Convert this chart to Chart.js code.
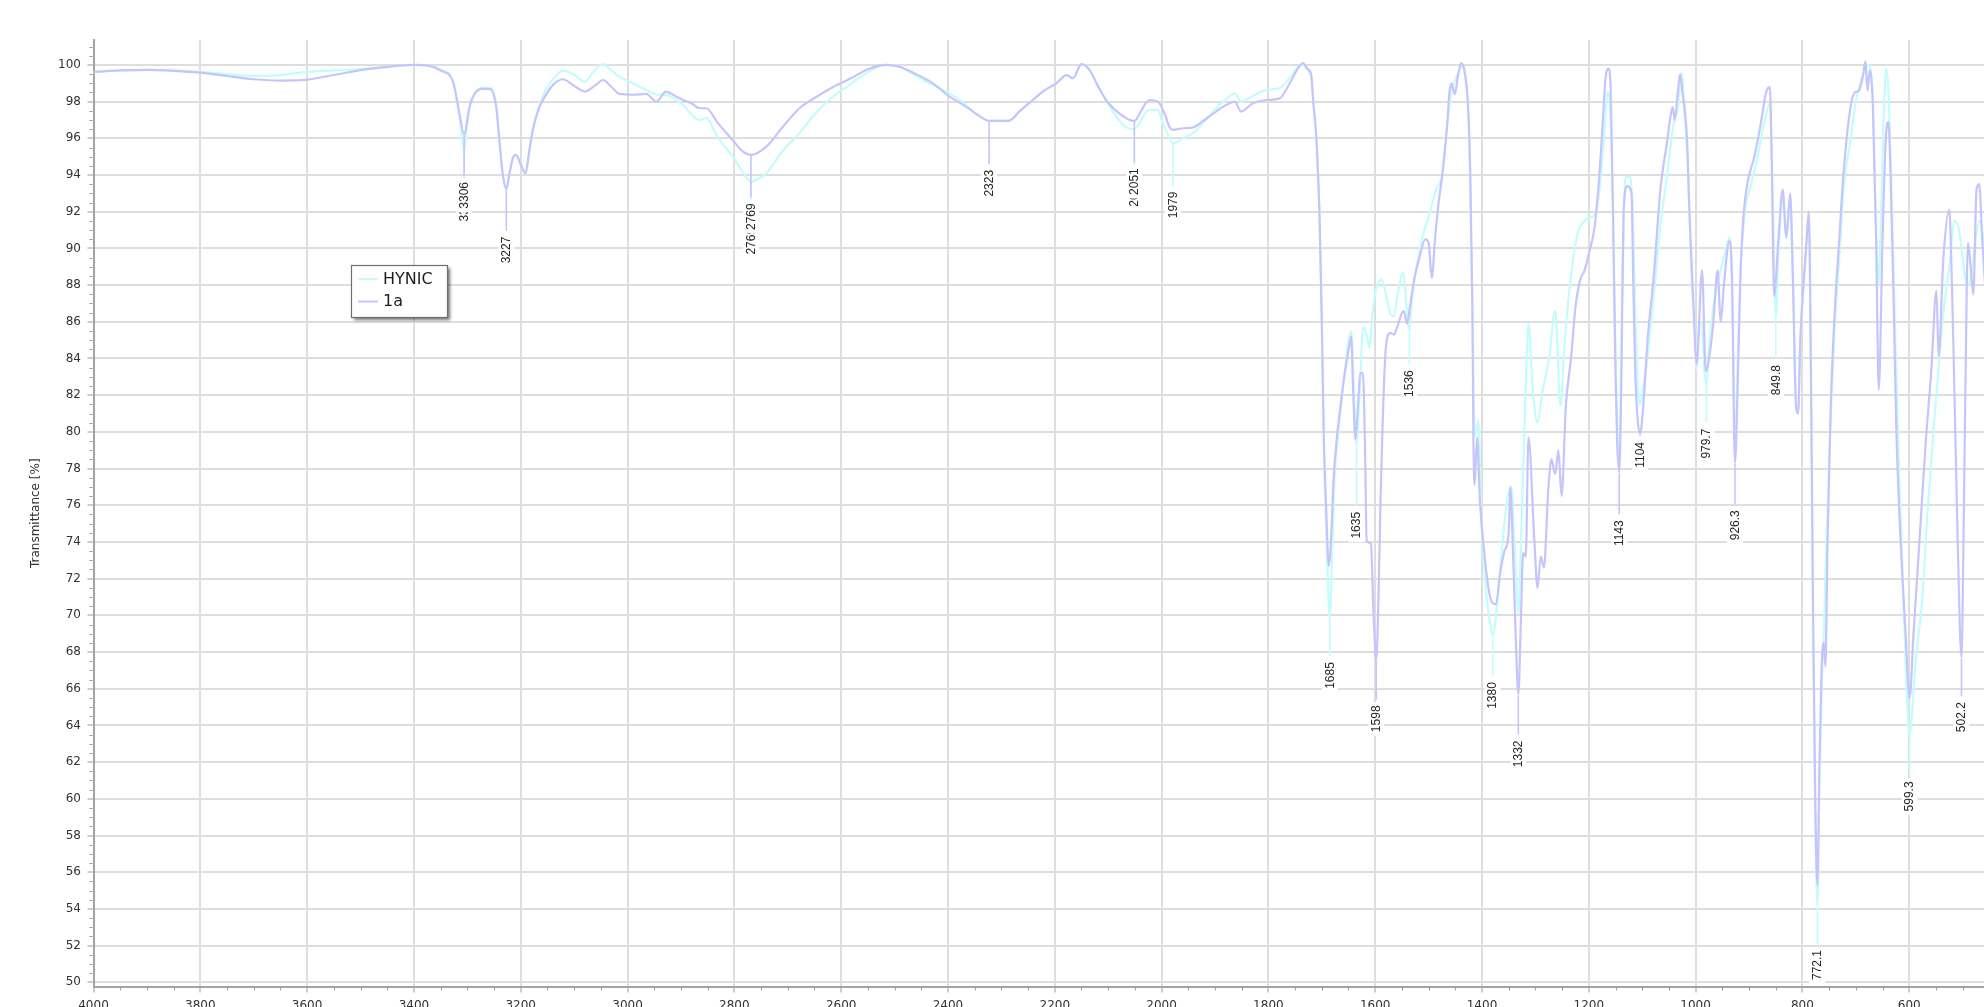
<!DOCTYPE html>
<html>
<head>
<meta charset="utf-8">
<title>IR spectra: HYNIC and 1a</title>
<script src="https://cdn.jsdelivr.net/npm/chart.js@4.4.0/dist/chart.umd.min.js"></script>
<style>
  html, body { margin: 0; padding: 0; overflow: hidden; background: #ffffff; }
  #wrap { width: 1984px; height: 1027px; }
</style>
</head>
<body>
<div id="wrap"><canvas id="ir" width="1984" height="1027"></canvas></div>
<script>
// ---- data -------------------------------------------------------------
const seriesNames = ['HYNIC', '1a'];
const seriesColors = ['#c4fcfc', '#c5c5fc'];

const xTicks = [4000, 3800, 3600, 3400, 3200, 3000, 2800, 2600, 2400, 2200, 2000, 1800, 1600, 1400, 1200, 1000, 800, 600];
const yTicks = [50, 52, 54, 56, 58, 60, 62, 64, 66, 68, 70, 72, 74, 76, 78, 80, 82, 84, 86, 88, 90, 92, 94, 96, 98, 100];

// [wavenumber cm-1, transmittance %]
const hynic = [
  [4000,99.6],[3950,99.7],[3900,99.73],[3850,99.7],[3800,99.62],[3750,99.5],[3700,99.4],[3650,99.45],[3600,99.62],[3550,99.7],
  [3500,99.78],[3450,99.9],[3400,100.0],[3372,99.95],[3350,99.75],[3327,99.1],[3315,97.2],[3306,95.4],[3298,97.4],[3288,98.3],
  [3272,98.76],[3255,98.73],[3246,97.8],[3240,96.0],[3234,94.2],[3227,93.3],[3221,94.1],[3215,94.9],[3209,95.1],[3199,94.5],
  [3191,94.1],[3184,95.3],[3177,96.6],[3165,97.8],[3152,98.7],[3140,99.2],[3121,99.69],[3102,99.5],[3080,99.09],[3065,99.6],
  [3046,100.05],[3030,99.7],[3015,99.36],[2990,99.0],[2965,98.64],[2946,98.4],[2928,98.37],[2910,98.1],[2896,97.82],[2880,97.3],
  [2865,97.0],[2853,97.1],[2830,96.0],[2803,95.0],[2785,94.2],[2769,93.64],[2755,93.8],[2740,94.1],[2710,95.3],[2678,96.28],
  [2650,97.3],[2615,98.27],[2580,99.0],[2553,99.55],[2516,100.0],[2491,99.9],[2460,99.4],[2428,98.9],[2397,98.45],[2370,97.9],
  [2353,97.46],[2335,97.1],[2323,96.95],[2300,96.95],[2285,96.97],[2265,97.5],[2241,98.09],[2220,98.6],[2197,99.0],[2178,99.45],
  [2166,99.27],[2150,100.05],[2135,99.73],[2120,98.9],[2104,98.09],[2085,97.2],[2066,96.6],[2051,96.5],[2040,96.9],[2030,97.4],
  [2022,97.55],[2007,97.55],[2000,97.0],[1990,96.3],[1979,95.73],[1960,96.0],[1941,96.28],[1920,96.9],[1898,97.64],[1880,98.1],
  [1863,98.45],[1851,98.0],[1830,98.3],[1804,98.64],[1779,98.73],[1760,99.3],[1745,99.9],[1735,100.0],[1727,99.7],[1720,99.4],
  [1716,98.0],[1710,95.9],[1704,91.5],[1700,86.0],[1696,79.0],[1691,74.0],[1685,69.9],[1680,74.0],[1676,77.5],[1669,79.9],
  [1663,81.7],[1657,83.2],[1651,84.8],[1645,85.5],[1640,82.5],[1635,79.3],[1630,81.5],[1627,83.5],[1623,85.7],[1617,85.4],
  [1611,84.6],[1604,86.8],[1597,87.9],[1588,88.3],[1580,87.5],[1571,86.4],[1565,86.3],[1557,87.7],[1547,88.7],[1542,87.0],
  [1536,85.5],[1531,87.2],[1525,88.6],[1510,90.8],[1498,91.9],[1486,93.2],[1474,94.1],[1465,96.8],[1457,98.6],[1450,99.2],
  [1444,99.6],[1438,99.9],[1432,99.5],[1426,97.5],[1422,93.5],[1418,86.5],[1415,81.0],[1411,79.8],[1407,80.6],[1400,74.5],
  [1392,71.2],[1386,69.8],[1380,68.9],[1372,70.5],[1363,73.5],[1353,76.3],[1345,77.0],[1340,74.5],[1336,72.0],[1332,70.1],
  [1328,73.0],[1323,78.1],[1318,82.5],[1313,85.9],[1305,82.3],[1296,80.5],[1288,82.0],[1274,84.1],[1263,86.6],[1253,81.4],
  [1245,85.0],[1233,88.6],[1221,90.8],[1208,91.5],[1196,91.7],[1188,91.9],[1180,93.2],[1172,95.9],[1165,98.5],[1159,97.0],
  [1154,91.0],[1149,83.0],[1143,78.3],[1139,85.0],[1134,92.5],[1131,93.9],[1123,93.9],[1118,92.3],[1113,86.8],[1108,82.3],
  [1104,81.5],[1098,82.5],[1090,84.1],[1078,87.5],[1066,91.2],[1053,94.1],[1041,96.8],[1033,97.7],[1026,99.6],[1021,97.5],
  [1014,94.0],[1008,88.6],[1001,85.5],[998,83.4],[993,86.0],[988,85.8],[984,83.5],[979.7,82.6],[975,84.5],[967,86.8],
  [955,88.6],[947,89.5],[936,90.6],[931,86.8],[926.3,79.0],[922,83.0],[916,88.6],[908,91.9],[896,93.5],[884,95.0],
  [872,96.8],[861,97.9],[856,93.0],[849.8,86.3],[845,89.5],[837,92.8],[830,90.6],[823,92.8],[818,88.6],[812,81.7],
  [808,81.2],[804,85.0],[796,88.6],[788,91.7],[784,83.0],[780,69.0],[776,59.0],[772.1,54.2],[768,61.0],[764,66.0],
  [760,69.0],[755,74.0],[748,80.0],[740,85.5],[731,89.5],[723,93.2],[710,95.9],[700,98.0],[690,99.2],[676,100.0],
  [668,98.0],[663,92.0],[658,88.0],[653,91.5],[648,97.0],[643,99.8],[638,98.0],[632,92.0],[626,85.0],[619,78.0],
  [611,71.0],[605,66.0],[599.3,63.4],[594,65.0],[588,67.5],[576,70.8],[566,75.5],[555,79.9],[545,83.5],[535,86.8],
  [525,89.0],[515,91.5],[507,91.0],[500,89.5],[492,88.0],[484,88.5],[476,90.5],[468,91.5],[458,90.0]
];

const compound1a = [
  [4000,99.63],[3950,99.7],[3900,99.73],[3850,99.68],[3800,99.58],[3750,99.4],[3720,99.28],[3700,99.22],[3650,99.15],[3600,99.2],
  [3550,99.45],[3500,99.72],[3450,99.9],[3400,100.0],[3372,99.95],[3350,99.7],[3327,99.1],[3315,97.4],[3306,96.2],[3296,97.7],
  [3287,98.4],[3272,98.7],[3258,98.7],[3246,97.73],[3240,95.9],[3234,94.1],[3227,93.24],[3221,94.1],[3215,94.9],[3209,95.1],
  [3199,94.5],[3191,94.1],[3184,95.3],[3177,96.5],[3165,97.7],[3152,98.4],[3140,98.9],[3121,99.22],[3102,98.9],[3080,98.55],
  [3060,98.9],[3046,99.18],[3030,98.8],[3015,98.42],[2990,98.38],[2965,98.42],[2946,98.0],[2928,98.55],[2910,98.3],[2896,98.09],
  [2880,97.9],[2865,97.64],[2853,97.64],[2830,96.8],[2803,95.9],[2785,95.3],[2769,95.1],[2740,95.55],[2710,96.6],[2678,97.64],
  [2650,98.2],[2615,98.8],[2580,99.3],[2553,99.73],[2516,100.0],[2491,99.9],[2460,99.5],[2428,99.0],[2397,98.27],[2370,97.8],
  [2353,97.46],[2335,97.1],[2323,96.95],[2300,96.95],[2285,96.97],[2265,97.5],[2241,98.09],[2220,98.6],[2197,99.0],[2178,99.45],
  [2166,99.27],[2150,100.05],[2135,99.73],[2120,98.9],[2104,98.09],[2085,97.5],[2066,97.1],[2051,96.95],[2040,97.4],[2030,97.9],
  [2022,98.09],[2007,98.0],[1995,97.4],[1985,96.6],[1979,96.46],[1960,96.55],[1941,96.6],[1920,97.0],[1898,97.46],[1880,97.8],
  [1863,98.0],[1851,97.46],[1830,97.9],[1804,98.09],[1779,98.18],[1760,99.0],[1745,99.8],[1735,100.1],[1727,99.8],[1720,99.5],
  [1716,98.0],[1710,95.9],[1704,91.5],[1700,86.0],[1696,79.5],[1692,76.0],[1687,72.7],[1682,74.5],[1678,77.4],[1671,79.9],
  [1665,81.4],[1657,83.2],[1649,84.6],[1645,85.2],[1641,82.0],[1637,79.6],[1632,81.5],[1628,83.2],[1623,83.2],[1619,79.0],
  [1616,74.1],[1608,73.9],[1603,70.0],[1598,67.6],[1593,72.0],[1590,76.3],[1586,80.5],[1584,82.3],[1580,84.6],[1572,85.4],
  [1565,85.3],[1559,85.7],[1547,86.6],[1540,85.9],[1535,86.8],[1527,88.3],[1518,89.4],[1506,90.5],[1500,90.3],[1494,88.4],
  [1488,90.5],[1482,92.3],[1474,94.1],[1465,96.8],[1461,98.5],[1457,99.0],[1451,98.4],[1445,99.4],[1439,100.1],[1433,99.7],
  [1426,97.7],[1422,94.1],[1418,86.8],[1416,79.5],[1414,77.1],[1409,79.7],[1404,76.3],[1396,73.5],[1388,71.5],[1381,70.7],
  [1374,70.6],[1366,72.3],[1358,73.5],[1350,74.5],[1347,77.0],[1342,73.5],[1337,69.0],[1332,65.7],[1327,69.9],[1323,73.4],
  [1318,73.2],[1313,79.7],[1302,74.1],[1296,71.5],[1290,73.2],[1284,72.6],[1276,76.8],[1270,78.5],[1263,77.7],[1257,79.0],
  [1251,76.5],[1243,81.4],[1233,84.1],[1225,86.8],[1216,88.3],[1208,88.8],[1200,89.7],[1189,91.2],[1181,93.7],[1174,96.8],
  [1169,99.2],[1163,99.8],[1159,98.6],[1155,92.3],[1150,83.2],[1147,79.5],[1143,77.8],[1139,83.0],[1135,91.9],[1128,93.4],
  [1120,93.0],[1117,88.6],[1113,83.2],[1108,80.5],[1104,79.9],[1098,81.4],[1090,85.0],[1078,88.6],[1066,93.2],[1053,95.9],
  [1049,96.8],[1043,97.7],[1039,97.0],[1033,98.6],[1029,99.5],[1025,98.6],[1016,95.9],[1012,92.3],[1004,86.8],[998,83.7],
  [988,88.8],[981,83.3],[976,83.8],[967,85.9],[959,88.8],[953,86.0],[947,88.0],[937,90.4],[932,88.6],[926.3,78.3],
  [920,84.0],[916,88.6],[910,91.9],[902,93.7],[890,95.0],[878,96.8],[868,98.5],[861,98.8],[857,94.1],[853,87.4],
  [845,90.5],[837,93.2],[830,90.6],[823,93.0],[818,88.6],[812,81.4],[808,81.0],[804,85.0],[797,88.5],[792,90.5],
  [788,92.0],[784,83.2],[780,70.0],[776,60.0],[772.1,55.3],[768,62.0],[764,67.2],[760,68.5],[757,67.2],[753,74.0],
  [747,81.4],[739,86.8],[731,90.5],[723,94.1],[710,97.7],[702,98.5],[694,98.6],[686,99.5],[682,100.2],[678,98.6],
  [674,99.7],[668,97.7],[662,90.5],[657,82.3],[650,90.5],[644,95.9],[639,96.9],[635,94.1],[629,86.8],[624,80.0],
  [617,74.6],[607,69.1],[599.3,65.5],[592,69.0],[584,72.6],[576,76.3],[568,79.9],[559,83.2],[549,87.7],[545,84.1],
  [536,89.5],[525,92.1],[520,88.0],[516,83.0],[510,75.0],[502.2,67.7],[498,75.0],[495,82.0],[490,90.3],[485,89.0],
  [480,87.5],[474,93.2],[469,93.5],[463,90.3],[458,88.0]
];

// peak picks: [wavenumber, label text, transmittance where the label ends]
const hynicPeaks = [
  [3306, '3306', 92.92], [2769, '2769', 91.12], [2051, '2051', 93.73], [1979, '1979', 93.1],
  [1685, '1685', 67.45], [1635, '1635', 75.64], [1536, '1536', 83.36], [1380, '1380', 66.36],
  [979.7, '979.7', 80.18], [849.8, '849.8', 83.64], [772.1, '772.1', 51.76], [599.3, '599.3', 60.95]
];
const peaks1a = [
  [3306, '3306', 93.62], [3227, '3227', 90.64], [2769, '2769', 92.46], [2323, '2323', 94.28],
  [2051, '2051', 94.37], [1598, '1598', 65.09], [1332, '1332', 63.18], [1143, '1143', 75.18],
  [1104, '1104', 79.45], [926.3, '926.3', 75.73], [502.2, '502.2', 65.27]
];

// ---- helpers ------------------------------------------------------------
function toPoints(rows) { return rows.map(r => ({ x: r[0], y: r[1] })); }

function valueAt(rows, wn) {
  for (let i = 0; i < rows.length - 1; i++) {
    const a = rows[i], b = rows[i + 1];
    if (wn <= a[0] && wn >= b[0]) {
      const t = a[0] === b[0] ? 0 : (a[0] - wn) / (a[0] - b[0]);
      return a[1] + t * (b[1] - a[1]);
    }
  }
  return null;
}

// small ticks between the labelled ones (every 50 cm-1 and every 0.5 %)
const minorTicks = {
  id: 'minorTicks',
  afterDraw(chart) {
    const { ctx, chartArea, scales: { x, y } } = chart;
    ctx.save();
    ctx.strokeStyle = '#9c9c9c';
    ctx.lineWidth = 1;
    ctx.beginPath();
    for (let v = 500; v <= 4000; v += 50) {
      if (v % 200 === 0) continue;
      const px = Math.round(x.getPixelForValue(v)) + 0.5;
      ctx.moveTo(px, chartArea.bottom + 1);
      ctx.lineTo(px, chartArea.bottom + 4);
    }
    for (let v = 50; v <= 101.3; v += 0.5) {
      if (v % 2 === 0) continue;
      const py = Math.round(y.getPixelForValue(v)) + 0.5;
      ctx.moveTo(chartArea.left - 4, py);
      ctx.lineTo(chartArea.left - 1, py);
    }
    ctx.stroke();
    ctx.restore();
  }
};

// vertical peak labels with leader lines
const peakLabels = {
  id: 'peakLabels',
  afterDatasetsDraw(chart) {
    const { ctx, scales: { x, y } } = chart;
    const groups = [[hynic, hynicPeaks, seriesColors[0]], [compound1a, peaks1a, seriesColors[1]]];
    ctx.save();
    ctx.beginPath();
    ctx.rect(chart.chartArea.left, chart.chartArea.top, chart.chartArea.width, chart.chartArea.height);
    ctx.clip();
    ctx.font = '12px "Liberation Sans", Arial, sans-serif';
    groups.forEach(([rows, peaks, color]) => {
      peaks.forEach(([wn, text, top]) => {
        const px = x.getPixelForValue(wn);
        const pyPeak = y.getPixelForValue(valueAt(rows, wn));
        const pyTop = y.getPixelForValue(top);
        ctx.strokeStyle = color;
        ctx.lineWidth = 1.6;
        ctx.beginPath();
        ctx.moveTo(px, pyPeak + 1);
        ctx.lineTo(px, pyTop - 6);
        ctx.stroke();
        const w = ctx.measureText(text).width;
        ctx.fillStyle = '#ffffff';
        ctx.fillRect(px - 8, pyTop - 3, 16, w + 6.5);
        ctx.save();
        ctx.translate(px, pyTop);
        ctx.rotate(-Math.PI / 2);
        ctx.fillStyle = '#262626';
        ctx.textAlign = 'right';
        ctx.textBaseline = 'middle';
        ctx.fillText(text, 0, 0.5);
        ctx.restore();
      });
    });
    ctx.restore();
  }
};

// boxed legend with a drop shadow inside the plot
const boxLegend = {
  id: 'boxLegend',
  afterDraw(chart) {
    const { ctx } = chart;
    const bx = 351, by = 265, bw = 96, bh = 52;
    ctx.save();
    ctx.shadowColor = 'rgba(0,0,0,0.55)';
    ctx.shadowBlur = 3;
    ctx.shadowOffsetX = 3;
    ctx.shadowOffsetY = 3;
    ctx.fillStyle = '#ffffff';
    ctx.fillRect(bx, by, bw, bh);
    ctx.restore();
    ctx.save();
    ctx.strokeStyle = '#6e6e6e';
    ctx.lineWidth = 1.2;
    ctx.strokeRect(bx + 0.5, by + 0.5, bw, bh);
    ctx.font = '16px "DejaVu Sans", sans-serif';
    ctx.textBaseline = 'middle';
    chart.data.datasets.forEach((ds, i) => {
      const cy = by + 14 + i * 22.5;
      ctx.strokeStyle = ds.borderColor;
      ctx.lineWidth = 2;
      ctx.beginPath();
      ctx.moveTo(bx + 7, cy);
      ctx.lineTo(bx + 27, cy);
      ctx.stroke();
      ctx.fillStyle = '#1e1e1e';
      ctx.fillText(ds.label, bx + 32, cy + 0.5);
    });
    ctx.restore();
  }
};

// ---- chart --------------------------------------------------------------
new Chart(document.getElementById('ir'), {
  type: 'line',
  data: {
    datasets: [
      { label: seriesNames[0], data: toPoints(hynic), borderColor: seriesColors[0], order: 2 },
      { label: seriesNames[1], data: toPoints(compound1a), borderColor: seriesColors[1], order: 1 }
    ]
  },
  options: {
    responsive: false,
    animation: false,
    events: [],
    layout: { padding: { top: 40, left: 0, right: 0, bottom: 0 } },
    elements: {
      point: { radius: 0 },
      line: { borderWidth: 2.2, fill: false, cubicInterpolationMode: 'monotone' }
    },
    plugins: { legend: { display: false }, tooltip: { enabled: false } },
    scales: {
      x: {
        type: 'linear',
        reverse: true,
        min: 460,
        max: 4000,
        afterBuildTicks: s => { s.ticks = xTicks.map(v => ({ value: v })); },
        afterFit: s => { s.height = 40.5; },
        grid: { color: '#dedede', lineWidth: 2, tickLength: 6, tickColor: '#9c9c9c', tickWidth: 1 },
        border: { color: '#a3a3a3', width: 2 },
        ticks: {
          color: '#333333', padding: 6, maxRotation: 0, autoSkip: false,
          font: { family: '"DejaVu Sans", sans-serif', size: 12 },
          callback: v => String(v)
        }
      },
      y: {
        type: 'linear',
        min: 49.77,
        max: 101.36,
        afterBuildTicks: s => { s.ticks = yTicks.map(v => ({ value: v })); },
        afterFit: s => { s.width = 93.5; },
        grid: { color: '#dedede', lineWidth: 2, tickLength: 6, tickColor: '#9c9c9c', tickWidth: 1 },
        border: { color: '#a3a3a3', width: 2 },
        title: {
          display: true, text: 'Transmittance [%]', color: '#333333',
          font: { family: '"DejaVu Sans", sans-serif', size: 12 },
          padding: { top: 29, bottom: 0 }
        },
        ticks: {
          color: '#333333', padding: 6.5, autoSkip: false,
          font: { family: '"DejaVu Sans", sans-serif', size: 12 },
          callback: v => String(v)
        }
      }
    }
  },
  plugins: [minorTicks, peakLabels, boxLegend]
});
</script>
</body>
</html>
